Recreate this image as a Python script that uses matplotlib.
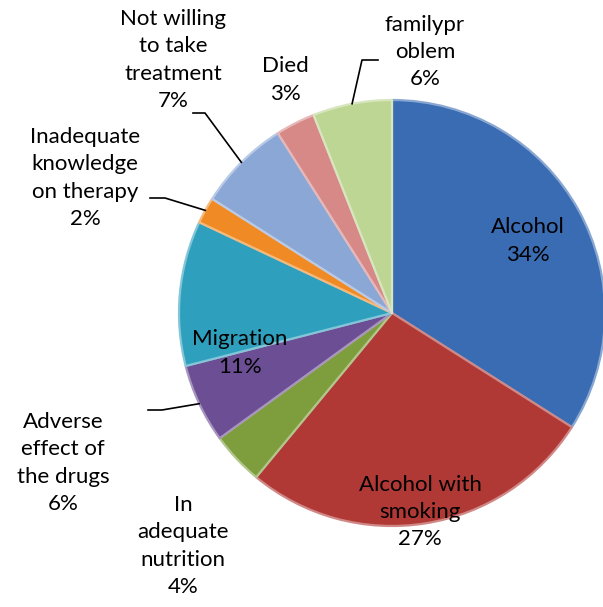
import numpy as np
import matplotlib.pyplot as plt
from matplotlib.colors import to_rgb

labels = ['Alcohol', 'Alcohol with\nsmoking', 'In\nadequate\nnutrition',
          'Adverse\neffect of\nthe drugs', 'Migration', 'Inadequate\nknowledge\non therapy',
          'Not willing\nto take\ntreatment', 'Died', 'familypr\noblem']
values = [34, 27, 4, 6, 11, 2, 7, 3, 6]
colors = ['#3a6cb3', '#b03935', '#7e9e3e', '#6c4e94', '#2ea0be',
          '#f08a24', '#8aa7d5', '#d78987', '#bdd693']

# label centres in pixel coords (x, y from top) and leader elbow (None = no leader)
label_pos = [(528, 241), (420, 512), (183, 546), (63, 463), (240, 353),
             (85, 178), (173, 60), (285, 80), (425, 52)]
elbow = [None, None, None, (162, 410), None, (165, 198), (205, 113), None, (362, 60)]
elbow_end = [None, None, None, (148, 410), None, (150, 198), (193, 113), None, (378, 60)]

W, H = 603, 607
cx, cy, r = 392, 313, 213

plt.rcParams['font.family'] = ['Lato', 'DejaVu Sans']
fig = plt.figure(figsize=(W / 100, H / 100), dpi=100)
ax = fig.add_axes([0, 0, 1, 1])

wedges, _ = ax.pie(values, colors=colors, startangle=90, counterclock=False,
                   center=(cx, H - cy), radius=r, frame=True,
                   wedgeprops=dict(edgecolor='none'))
# soft bevel: lighter rim on each slice
for w, c in zip(wedges, colors):
    light = tuple(0.6 * np.array(to_rgb(c)) + 0.4)
    w.set_edgecolor(light)
    w.set_linewidth(1.6)
    w.set_joinstyle('round')
ax.set_xlim(0, W)
ax.set_ylim(0, H)
ax.axis('off')

for i, w in enumerate(wedges):
    tx, ty = label_pos[i]
    ax.text(tx, H - ty, f'{labels[i]}\n{values[i]}%', ha='center', va='center',
            fontsize=16, linespacing=1.45, color='black')
    if elbow[i] is not None:
        ang = np.deg2rad((w.theta1 + w.theta2) / 2)
        px = cx + r * np.cos(ang)
        py = H - cy + r * np.sin(ang)
        ex, ey = elbow[i]
        sx, sy = elbow_end[i]
        ax.plot([px, ex, sx], [py, H - ey, H - sy], color='black', lw=1.2)

fig.savefig('out.png', dpi=100)
